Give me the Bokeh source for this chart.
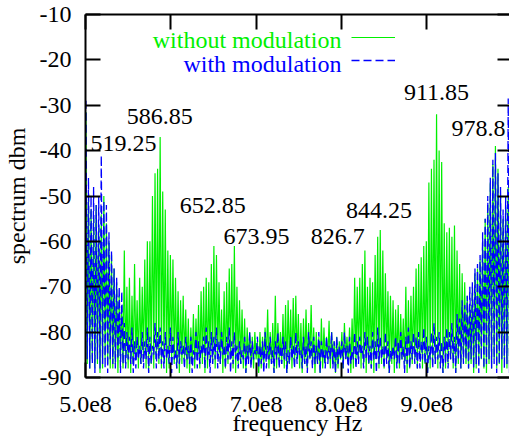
import numpy as np
from bokeh.plotting import figure
from bokeh.models import (FixedTicker, LinearAxis, Legend, LegendItem, Label,
                          Range1d, ColumnDataSource)
from bokeh.embed import file_html
from bokeh.resources import INLINE
from bokeh.core.properties import value

# ---------------- data ----------------
# spectral line positions (MHz): spikes and the troughs between them
peak_freq_mhz = np.arange(500.5, 999.0, 3.0)      # 167 spikes
floor_freq_mhz = np.arange(502.0, 1000.5, 3.0)    # 167 troughs

green_peaks = [
    -31.5, -50, -53, -55, -52, -57, -54, -50, -56, -60,
    -63, -66, -69, -72, -74, -62, -70, -68, -72, -65,
    -73, -68, -70, -64, -60, -60, -50, -45, -44, -37,
    -49, -53, -62, -63, -64, -68, -71, -73, -72, -75,
    -77, -79, -76, -77, -74, -71, -70, -68, -69, -65,
    -61, -63, -69, -75, -71, -69, -66, -65, -61, -70,
    -73, -75, -77, -79, -80, -81, -80, -82, -80, -81,
    -79, -75, -80, -78, -72, -78, -80, -76, -74, -73,
    -75, -72.5, -72, -76, -78, -77, -75, -78, -74, -79,
    -80, -81, -77, -79, -81, -77.5, -80, -82, -81, -82,
    -80, -78, -81, -79, -77, -68, -70, -68, -65, -62,
    -70, -68, -69, -63, -59, -57.5, -62, -67, -71, -72,
    -73, -75, -74, -76, -77, -70, -73, -72, -70, -66,
    -65, -63.5, -61, -60, -47, -44, -42, -32, -40, -42.5,
    -56, -58, -57, -59, -56.5, -62, -65, -67, -69, -72,
    -74, -70, -67, -66, -64, -60, -55, -52, -47, -43,
    -39, -44, -50, -55, -52, -48, -40,
]
green_floors = [
    -87, -88, -86, -88, -87, -89, -88, -86, -87, -88,
    -88, -87, -89, -86, -88, -87, -88, -89, -87, -86,
    -88, -87, -86, -88, -89, -87, -88, -86, -87, -88,
    -87, -89, -88, -86, -87, -88, -89, -87, -86, -88,
    -89, -87, -88, -86, -88, -87, -89, -88, -86, -87,
    -88, -86, -87, -89, -88, -87, -86, -88, -89, -87,
    -87, -88, -89, -86, -87, -88, -86, -89, -88, -87,
    -86, -88, -87, -89, -88, -86, -87, -88, -89, -87,
    -88, -87, -86, -88, -89, -87, -88, -86, -87, -89,
    -87, -89, -88, -87, -86, -88, -87, -89, -88, -86,
    -88, -86, -87, -89, -88, -87, -86, -88, -87, -89,
    -87, -88, -89, -86, -88, -87, -88, -86, -89, -87,
    -89, -87, -88, -86, -87, -89, -88, -87, -86, -88,
    -86, -88, -87, -89, -88, -86, -87, -88, -87, -89,
    -88, -87, -86, -88, -89, -87, -88, -86, -87, -88,
    -87, -89, -88, -87, -86, -88, -89, -87, -88, -86,
    -88, -87, -89, -86, -88, -87, -88,
]
blue_peaks = [
    -29, -46, -50, -48, -52, -50, -41, -51, -52, -58,
    -62, -66, -68, -70, -71, -78, -80, -81, -79, -82,
    -81, -83, -80, -82, -79, -81, -83, -78, -80, -79,
    -82, -80, -83, -79, -81, -84, -80, -82, -83, -81,
    -83, -81, -84, -80, -82, -83, -81, -79, -82, -80,
    -81, -79, -82, -80, -83, -81, -79, -82, -80, -83,
    -82, -84, -81, -83, -80, -82, -84, -81, -83, -82,
    -80, -83, -81, -84, -82, -80, -83, -81, -82, -84,
    -81, -83, -80, -82, -84, -81, -83, -80, -82, -81,
    -83, -80, -82, -84, -81, -83, -80, -82, -81, -83,
    -82, -80, -83, -81, -84, -80, -82, -81, -83, -80,
    -81, -83, -80, -82, -79, -81, -83, -80, -82, -84,
    -83, -81, -82, -80, -83, -81, -79, -82, -80, -81,
    -80, -82, -79, -81, -83, -80, -78, -81, -80, -82,
    -81, -79, -80, -78, -81, -76, -77, -73, -74, -72,
    -70, -69, -66, -65, -63, -58, -55, -50, -46, -42,
    -40.5, -45, -48, -53, -50, -28.5, -40,
]
blue_floors = [
    -86, -88, -87, -89, -86, -88, -87, -88, -89, -86,
    -87, -88, -86, -89, -87, -88, -86, -87, -89, -88,
    -86, -87, -88, -86, -89, -87, -85, -88, -86, -87,
    -88, -86, -87, -89, -86, -88, -87, -85, -88, -86,
    -87, -89, -86, -88, -87, -85, -88, -86, -89, -87,
    -86, -88, -87, -85, -88, -86, -89, -87, -86, -88,
    -87, -86, -89, -87, -88, -86, -85, -88, -87, -89,
    -88, -86, -87, -89, -86, -88, -87, -86, -89, -87,
    -86, -88, -87, -85, -88, -87, -89, -86, -88, -87,
    -87, -89, -86, -88, -87, -86, -88, -89, -87, -86,
    -88, -86, -89, -87, -86, -88, -87, -85, -88, -86,
    -87, -88, -86, -89, -87, -86, -88, -87, -89, -86,
    -86, -88, -87, -86, -89, -87, -88, -86, -87, -88,
    -88, -86, -87, -89, -86, -88, -87, -86, -88, -89,
    -87, -88, -86, -87, -89, -86, -88, -87, -86, -88,
    -86, -88, -87, -89, -86, -88, -87, -86, -88, -87,
    -89, -87, -86, -88, -87, -89, -88,
]

# annotated peak frequencies (MHz) and where their labels sit
note_text = ["519.25", "586.85", "652.85", "673.95", "826.7", "844.25", "911.85", "978.8"]
note_x_mhz = [544.5, 587.0, 649.2, 700.3, 795.7, 844.0, 911.4, 960.8]
note_y_dbm = [-38.5, -32.4, -52.1, -59.0, -59.0, -53.2, -27.1, -35.2]

xtick_values = [500000000, 600000000, 700000000, 800000000, 900000000]
xtick_labels = ["5.0e8", "6.0e8", "7.0e8", "8.0e8", "9.0e8"]
ytick_values = [-90, -80, -70, -60, -50, -40, -30, -20, -10]
ytick_labels = ["-90", "-80", "-70", "-60", "-50", "-40", "-30", "-20", "-10"]

series_names = ["without modulation", "with modulation"]

# ---------------- build ----------------
FONT = "Liberation Serif"
GREEN = "#00f000"
BLUE = "#0000ff"


def zigzag(peaks, floors):
    n = len(peaks)
    x = np.empty(2 * n)
    y = np.empty(2 * n)
    x[0::2] = peak_freq_mhz * 1e6
    x[1::2] = floor_freq_mhz * 1e6
    y[0::2] = peaks
    y[1::2] = floors
    return x, y


gx, gy = zigzag(green_peaks, green_floors)
bx, by = zigzag(blue_peaks, blue_floors)

p = figure(width=509, height=442, output_backend="svg", toolbar_location=None,
           x_range=Range1d(5e8, 9.97e8), y_range=Range1d(-90, -10),
           min_border_left=82, min_border_right=0, min_border_top=14,
           min_border_bottom=65,
           x_axis_label="frequency Hz", y_axis_label="spectrum dbm")
p.outline_line_color = None
p.grid.visible = False
p.background_fill_color = "white"
p.border_fill_color = "white"

g = p.line(gx, gy, line_color=GREEN, line_width=1.2)
b = p.line(bx, by, line_color=BLUE, line_width=1.3, line_dash="8 4")

for ax in (p.xaxis[0], p.yaxis[0]):
    ax.axis_line_width = 2
    ax.major_tick_line_width = 2
    ax.major_tick_in = 15
    ax.major_tick_out = 0
    ax.minor_tick_line_color = None
    ax.major_label_text_font = FONT
    ax.major_label_text_font_size = "24px"
    ax.major_label_text_color = "black"
    ax.axis_label_text_font = FONT
    ax.axis_label_text_font_size = "24px"
    ax.axis_label_text_font_style = "normal"
    ax.axis_label_text_color = "black"

p.xaxis[0].ticker = FixedTicker(ticks=xtick_values)
p.xaxis[0].major_label_overrides = dict(zip(xtick_values, xtick_labels))
p.xaxis[0].major_label_standoff = 19
p.xaxis[0].axis_label_standoff = -5
p.yaxis[0].ticker = FixedTicker(ticks=ytick_values)
p.yaxis[0].major_label_overrides = dict(zip(ytick_values, ytick_labels))
p.yaxis[0].major_label_standoff = 14
p.yaxis[0].axis_label_standoff = 7

top = LinearAxis(ticker=FixedTicker(ticks=xtick_values), axis_line_width=2,
                 major_tick_line_width=2, major_tick_in=15, major_tick_out=0,
                 minor_tick_line_color=None, major_label_text_font_size="1px",
                 major_label_text_color=None, major_label_standoff=0,
                 major_label_overrides={t: "" for t in xtick_values})
p.add_layout(top, "above")
right = LinearAxis(ticker=FixedTicker(ticks=ytick_values), axis_line_color=None,
                   major_tick_line_width=2, major_tick_in=12, major_tick_out=0,
                   minor_tick_line_color=None, major_label_text_font_size="1px",
                   major_label_text_color=None, major_label_standoff=0,
                   major_label_overrides={t: "" for t in ytick_values})
p.add_layout(right, "right")

# peak annotations
src = ColumnDataSource(dict(x=[v * 1e6 for v in note_x_mhz], y=note_y_dbm, t=note_text))
p.text(x="x", y="y", text="t", source=src, text_font=value(FONT),
       text_font_size="24px", text_color="black", text_align="center",
       text_baseline="middle")

# key: text to the left of the line sample, as in the original
p.add_layout(Label(x=8.0e8, y=-15.7, text=series_names[0], text_align="right",
                   text_baseline="middle", text_font=FONT, text_font_size="24px",
                   text_color=GREEN))
p.add_layout(Label(x=8.0e8, y=-21.0, text=series_names[1], text_align="right",
                   text_baseline="middle", text_font=FONT, text_font_size="24px",
                   text_color=BLUE))
legend = Legend(items=[LegendItem(label=" ", renderers=[g]),
                       LegendItem(label=" ", renderers=[b])],
                location=(266, 307), glyph_width=44, glyph_height=20,
                label_height=20, label_width=1, spacing=3, padding=0, margin=0,
                border_line_color=None, background_fill_alpha=0,
                label_standoff=0, label_text_font_size="1px")
p.add_layout(legend)

open("out.html", "w").write(file_html(p, INLINE))
